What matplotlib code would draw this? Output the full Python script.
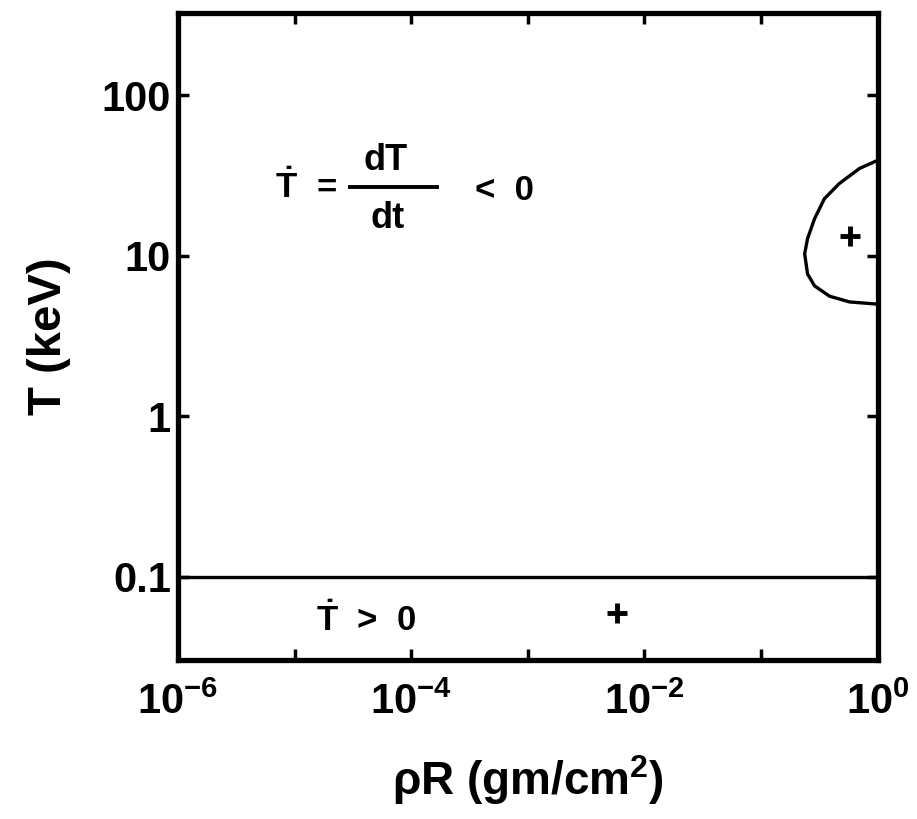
import numpy as np
import matplotlib
matplotlib.use('Agg')
import matplotlib.pyplot as plt
from matplotlib.ticker import FixedLocator, FixedFormatter, NullLocator, NullFormatter

plt.rcParams['font.family'] = ['Liberation Sans', 'DejaVu Sans']
plt.rcParams['font.weight'] = 'bold'
plt.rcParams['axes.labelweight'] = 'bold'
plt.rcParams['mathtext.fontset'] = 'custom'
plt.rcParams['mathtext.rm'] = 'Liberation Sans:bold'
plt.rcParams['mathtext.it'] = 'Liberation Sans:bold'
plt.rcParams['mathtext.bf'] = 'Liberation Sans:bold'

# boundary of the region where dT/dt > 0 near rhoR ~ 1 (upper right loop)
loop_rhoR = [1.0, 0.70, 0.47, 0.35, 0.288, 0.251, 0.237, 0.251, 0.288, 0.388, 0.575, 1.0]
loop_T = [39.3, 35.0, 28.2, 22.7, 17.0, 12.8, 10.3, 7.7, 6.5, 5.6, 5.16, 5.0]

# lower boundary (T = 0.1 keV)
low_rhoR = [1e-6, 1.0]
low_T = [0.1, 0.1]

# "+" markers
plus_rhoR = [0.575, 0.0058]
plus_T = [13.3, 0.0596]

x_ticks = [1e-6, 1e-4, 1e-2, 1e0]
x_labels = ['$10^{-6}$', '$10^{-4}$', '$10^{-2}$', '$10^{0}$']
x_minor = [1e-5, 1e-3, 1e-1]
y_ticks = [0.1, 1, 10, 100]
y_labels = ['0.1', '1', '10', '100']

fig = plt.figure(figsize=(9.17, 8.19), dpi=100)
ax = fig.add_axes([0.194, 0.194, 0.763, 0.790])
ax.set_xscale('log')
ax.set_yscale('log')

ax.plot(loop_rhoR, loop_T, color='black', linewidth=2.4)
ax.plot(low_rhoR, low_T, color='black', linewidth=2.4)
ax.plot(plus_rhoR, plus_T, linestyle='none', marker='+', markersize=14,
        markeredgewidth=3.5, color='black')

# annotations (axes fraction coordinates)
ax.text(0.197, 0.045, r'$\dot{\mathrm{T}}$  >  0', fontsize=25,
        ha='left', va='baseline', transform=ax.transAxes)
ax.text(0.139, 0.714, r'$\dot{\mathrm{T}}$', fontsize=25,
        ha='left', va='baseline', transform=ax.transAxes)
ax.text(0.198, 0.714, '=', fontsize=25, ha='left', va='baseline',
        transform=ax.transAxes)
ax.text(0.297, 0.757, 'dT', fontsize=26, ha='center', va='baseline',
        transform=ax.transAxes)
ax.plot([0.246, 0.370], [0.731, 0.731], color='black', linewidth=2.8,
        transform=ax.transAxes)
ax.text(0.300, 0.668, 'dt', fontsize=26, ha='center', va='baseline',
        transform=ax.transAxes)
ax.text(0.424, 0.711, '<  0', fontsize=25, ha='left', va='baseline',
        transform=ax.transAxes)

ax.set_xlim(1e-6, 1.0)
ax.set_ylim(0.0303, 325)

ax.xaxis.set_major_locator(FixedLocator(x_ticks))
ax.xaxis.set_major_formatter(FixedFormatter(x_labels))
ax.xaxis.set_minor_locator(FixedLocator(x_minor))
ax.xaxis.set_minor_formatter(NullFormatter())
ax.yaxis.set_major_locator(FixedLocator(y_ticks))
ax.yaxis.set_major_formatter(FixedFormatter(y_labels))
ax.yaxis.set_minor_locator(NullLocator())

ax.tick_params(which='both', direction='in', top=True, right=True,
               width=2.5, color='black')
ax.tick_params(which='major', length=8, labelsize=30)
ax.tick_params(which='minor', length=8)
ax.tick_params(axis='x', which='major', pad=16)
ax.tick_params(axis='y', which='major', pad=5)

for s in ax.spines.values():
    s.set_linewidth(3.8)

ax.set_xlabel(r'ρR (gm/cm$^{2}$)', fontsize=33, labelpad=22)
ax.set_ylabel('T (keV)', fontsize=34, labelpad=22)

fig.savefig('out.png', dpi=100)
